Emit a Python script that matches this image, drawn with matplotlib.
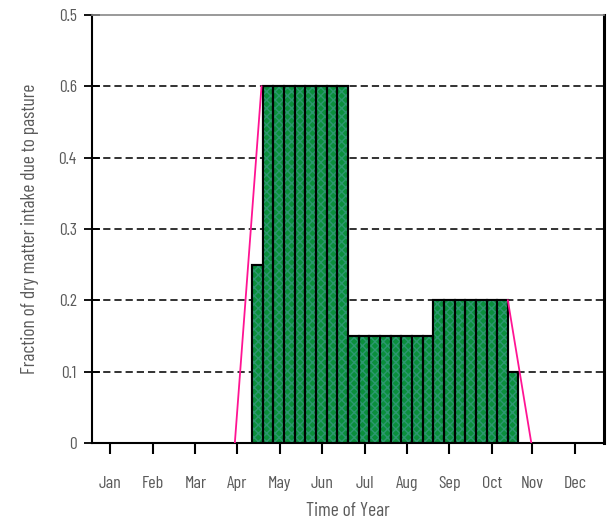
import matplotlib
matplotlib.use('Agg')
import matplotlib.pyplot as plt

# Quarter-month periods (48 per year), bars start at period 15 (late Apr)
MONTHS = ['Jan', 'Feb', 'Mar', 'Apr', 'May', 'Jun',
          'Jul', 'Aug', 'Sep', 'Oct', 'Nov', 'Dec']
BAR_START = 15
FRACTION = [0.25,
            0.5, 0.5, 0.5, 0.5, 0.5, 0.5, 0.5, 0.5,
            0.15, 0.15, 0.15, 0.15, 0.15, 0.15, 0.15, 0.15,
            0.2, 0.2, 0.2, 0.2, 0.2, 0.2, 0.2,
            0.1]
# pink ramp lines
RAMP_UP_X = [13.4, 15.9]
RAMP_UP_Y = [0.0, 0.5]
RAMP_DOWN_X = [39.0, 41.2]
RAMP_DOWN_Y = [0.2, 0.0]
Y_TICKS = [0, 0.1, 0.2, 0.3, 0.4, 0.5, 0.6]
Y_LABELS = ['0', '0.1', '0.2', '0.3', '0.4', '0.6', '0.5']

MONTH_TICKS = [1.7, 5.7, 9.7, 13.6, 17.6, 21.6, 25.6, 29.5, 33.5, 37.5, 41.3, 45.3]

FONT = ['Barlow Condensed', 'DejaVu Sans']
TXT = '#5a5a5a'

fig = plt.figure(figsize=(6.13, 5.21), dpi=100)
ax = fig.add_axes([0.150, 0.150, 0.835, 0.821])

x = [BAR_START + i for i in range(len(FRACTION))]

# dashed grid behind the bars
for yv in Y_TICKS[1:-1]:
    ax.axhline(yv, color='#222222', linestyle=(0, (4, 2.2)), linewidth=1.3, zorder=1)

ax.bar(x, FRACTION, width=1, align='edge', color='#0a8f3c',
       edgecolor='black', linewidth=1.5, zorder=2)
# texture
ax.bar(x, FRACTION, width=1, align='edge', color='none',
       edgecolor='#2c9870', hatch='xxxx', linewidth=0, zorder=3)
ax.bar(x, FRACTION, width=1, align='edge', color='none',
       edgecolor='black', linewidth=1.5, zorder=4)

ax.plot(RAMP_UP_X, RAMP_UP_Y, color='#ff1493', linewidth=1.3, zorder=5)
ax.plot(RAMP_DOWN_X, RAMP_DOWN_Y, color='#ff1493', linewidth=1.3, zorder=5)

ax.set_xlim(0, 48)
ax.set_ylim(0, 0.6)

ax.set_xticks(MONTH_TICKS)
ax.set_xticklabels(MONTHS, family=FONT, fontsize=13, color=TXT)
ax.set_yticks(Y_TICKS)
ax.set_yticklabels(Y_LABELS, family=FONT, fontsize=12.5, color=TXT)
ax.tick_params(axis='x', direction='out', length=8, width=1.5, pad=16)
ax.tick_params(axis='y', direction='inout', length=12, width=1.3, pad=5)

ax.spines['top'].set_color('#888888')
ax.spines['top'].set_linewidth(1.2)
ax.spines['right'].set_linewidth(2.2)
ax.spines['left'].set_linewidth(1.5)
ax.spines['bottom'].set_linewidth(1.5)

ax.set_xlabel('Time of Year', family=FONT, fontsize=14, color=TXT, labelpad=8)
ax.set_ylabel('Fraction of dry matter intake due to pasture', family=FONT,
              fontsize=14, color=TXT, labelpad=14)

fig.savefig('out.png', dpi=100)
